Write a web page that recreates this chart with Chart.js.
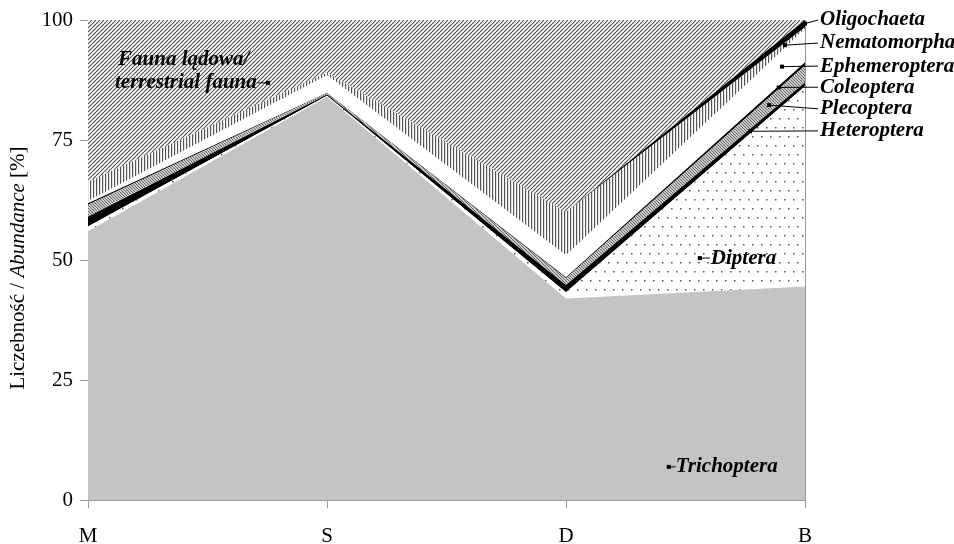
<!DOCTYPE html>
<html>
<head>
<meta charset="utf-8">
<script src="https://cdn.jsdelivr.net/npm/chart.js"></script>
<style>
  body { margin: 0; background: #fff; }
  #wrap { width: 954px; height: 544px; }
</style>
</head>
<body>
<div id="wrap"><canvas id="abundanceChart" width="954" height="544"></canvas></div>
<script>
// sites on the x axis
const categories = ['M', 'S', 'D', 'B'];
const yTicks = [0, 25, 50, 75, 100];

// share of each group [%], bottom layer first
const trichoptera   = [56,   84,  42,   44.5];
const diptera       = [1,    0.2, 1.3,  41.7];
const heteroptera   = [2,    0.3, 1.5,  0.8];
const plecoptera    = [2.5,  0.2, 1.4,  3.5];
const coleoptera    = [0.3,  0.1, 0.2,  0.7];
const ephemeroptera = [0.5,  3.7, 4.6,  7];
const nematomorpha  = [4,    0.5, 9,    0.3];
const oligochaeta   = [0,    0,   0,    1.5];
const faunaLadowa   = [33.7, 11,  40,   0];

const serif = '"Liberation Serif", "Times New Roman", serif';

const makeTile = (w, h, paint) => {
    const c = document.createElement('canvas');
    c.width = w; c.height = h;
    const g = c.getContext('2d');
    paint(g, w, h);
    return g.createPattern(c, 'repeat');
};

const diagonal = (size, color, bg, forward, lw) => makeTile(size, size, (g) => {
    g.fillStyle = bg;
    g.fillRect(0, 0, size, size);
    g.strokeStyle = color;
    g.lineWidth = lw;
    g.beginPath();
    for (let k = -1; k <= 1; k++) {
        if (forward) {
            g.moveTo(k * size, size);
            g.lineTo(k * size + size, 0);
        } else {
            g.moveTo(k * size, 0);
            g.lineTo(k * size + size, size);
        }
    }
    g.stroke();
});

const dots = makeTile(18, 18, (g) => {
    g.fillStyle = '#fff';
    g.fillRect(0, 0, 18, 18);
    g.fillStyle = '#555';
    [[1, 1], [10, 1], [5, 10], [14, 10]].forEach(([a, b]) => g.fillRect(a, b, 1.5, 1.5));
});

const vertical = makeTile(3, 1, (g) => {
    g.fillStyle = '#fff';
    g.fillRect(0, 0, 3, 1);
    g.fillStyle = '#555';
    g.fillRect(0, 0, 1.2, 1);
});

const layers = [
    { label: 'Trichoptera', data: trichoptera, fill: '#c4c4c4' },
    { label: 'Diptera', data: diptera, fill: dots },
    { label: 'Heteroptera', data: heteroptera, fill: '#000' },
    { label: 'Plecoptera', data: plecoptera, fill: diagonal(3, '#666', '#ccc', false, 1) },
    { label: 'Coleoptera', data: coleoptera, fill: '#000' },
    { label: 'Ephemeroptera', data: ephemeroptera, fill: '#fff' },
    { label: 'Nematomorpha', data: nematomorpha, fill: vertical },
    { label: 'Oligochaeta', data: oligochaeta, fill: '#000' },
    { label: 'Fauna lądowa', data: faunaLadowa, fill: diagonal(4, '#555', '#fff', true, 1.2) }
];

// value of a series at a fractional category index
const at = (arr, xi) => {
    const i = Math.min(Math.floor(xi), arr.length - 2);
    const t = xi - i;
    return arr[i] * (1 - t) + arr[i + 1] * t;
};

const layerMid = (idx, xi) => {
    let below = 0;
    for (let k = 0; k < idx; k++) below += at(layers[k].data, xi);
    return below + at(layers[idx].data, xi) / 2;
};

// labels at the right edge: layer index, where the dot sits, label height (value)
const sideLabels = [
    { text: 'Oligochaeta', layer: 7, xi: 3, y: 100 },
    { text: 'Nematomorpha', layer: 6, xi: 2.916, y: 95.2 },
    { text: 'Ephemeroptera', layer: 5, xi: 2.904, y: 90.4 },
    { text: 'Coleoptera', layer: 4, xi: 2.89, y: 86 },
    { text: 'Plecoptera', layer: 3, xi: 2.85, y: 81.5 },
    { text: 'Heteroptera', layer: 2, xi: 2.77, y: 76.9 }
];

const annotations = {
    id: 'annotations',
    afterDatasetsDraw(chart) {
        const { ctx, chartArea, scales: { x, y } } = chart;
        ctx.save();

        // right frame line
        ctx.strokeStyle = '#999';
        ctx.lineWidth = 1;
        ctx.beginPath();
        ctx.moveTo(chartArea.right + 0.5, chartArea.top);
        ctx.lineTo(chartArea.right + 0.5, chartArea.bottom);
        ctx.stroke();

        ctx.font = `italic bold 21px ${serif}`;
        ctx.textBaseline = 'middle';
        ctx.fillStyle = '#000';
        ctx.strokeStyle = '#000';

        const dot = (px, py) => ctx.fillRect(px - 2, py - 2, 4, 4);

        const textX = x.getPixelForValue(3) + 15;
        sideLabels.forEach((l) => {
            const dx = x.getPixelForValue(l.xi);
            const dy = y.getPixelForValue(layerMid(l.layer, l.xi));
            const ly = y.getPixelForValue(l.y);
            ctx.beginPath();
            ctx.moveTo(dx, dy);
            ctx.lineTo(textX - 2, ly);
            ctx.stroke();
            dot(dx, dy);
            ctx.fillText(l.text, textX, ly);
        });

        // Diptera
        let px = x.getPixelForValue(2.56), py = y.getPixelForValue(50.4);
        dot(px, py);
        ctx.beginPath(); ctx.moveTo(px, py); ctx.lineTo(px + 10, py); ctx.stroke();
        ctx.fillText('Diptera', px + 11, py);

        // Trichoptera
        px = x.getPixelForValue(2.43); py = y.getPixelForValue(6.9);
        dot(px, py);
        ctx.beginPath(); ctx.moveTo(px, py); ctx.lineTo(px + 7, py); ctx.stroke();
        ctx.fillText('Trichoptera', px + 7, py);

        // terrestrial fauna
        ctx.fillText('Fauna lądowa/', x.getPixelForValue(0.126), y.getPixelForValue(91.7));
        const l2x = x.getPixelForValue(0.113), l2y = y.getPixelForValue(86.9);
        ctx.fillText('terrestrial fauna', l2x, l2y);
        const endX = l2x + ctx.measureText('terrestrial fauna').width;
        const ax = x.getPixelForValue(0.753);
        ctx.beginPath(); ctx.moveTo(endX + 1, l2y); ctx.lineTo(ax, l2y); ctx.stroke();
        dot(ax, l2y);

        // y axis title with italic part
        const parts = [
            { t: 'Liczebność / ', f: `21px ${serif}` },
            { t: 'Abundance', f: `italic 21px ${serif}` },
            { t: ' [%]', f: `21px ${serif}` }
        ];
        let total = 0;
        parts.forEach((p) => { ctx.font = p.f; p.w = ctx.measureText(p.t).width; total += p.w; });
        ctx.translate(18, (chartArea.top + chartArea.bottom) / 2 + 8);
        ctx.rotate(-Math.PI / 2);
        let cx = -total / 2;
        ctx.textAlign = 'left';
        parts.forEach((p) => { ctx.font = p.f; ctx.fillText(p.t, cx, 0); cx += p.w; });

        ctx.restore();
    }
};

new Chart(document.getElementById('abundanceChart'), {
    type: 'line',
    data: {
        labels: categories,
        datasets: layers.map((l, i) => ({
            label: l.label,
            data: l.data,
            backgroundColor: l.fill,
            fill: i === 0 ? 'origin' : '-1',
            borderWidth: 0,
            borderColor: 'rgba(0,0,0,0)',
            pointRadius: 0,
            tension: 0
        }))
    },
    options: {
        responsive: false,
        animation: false,
        layout: { padding: { top: 20, right: 149, left: 0, bottom: 0 } },
        plugins: { legend: { display: false }, tooltip: { enabled: false }, title: { display: false } },
        scales: {
            x: {
                offset: false,
                grid: { drawOnChartArea: false, tickLength: 8, color: '#999' },
                border: { color: '#999' },
                ticks: { font: { family: serif, size: 21 }, color: '#000', padding: 16, maxRotation: 0 },
                afterFit: (s) => { s.height = 44; }
            },
            y: {
                stacked: true,
                min: 0,
                max: 100,
                afterBuildTicks: (s) => { s.ticks = yTicks.map((v) => ({ value: v })); },
                grid: { drawOnChartArea: false, tickLength: 8, color: '#999' },
                border: { color: '#999' },
                ticks: { font: { family: serif, size: 21 }, color: '#000', padding: 7 },
                afterFit: (s) => { s.width = 88; }
            }
        }
    },
    plugins: [annotations]
});
</script>
</body>
</html>
